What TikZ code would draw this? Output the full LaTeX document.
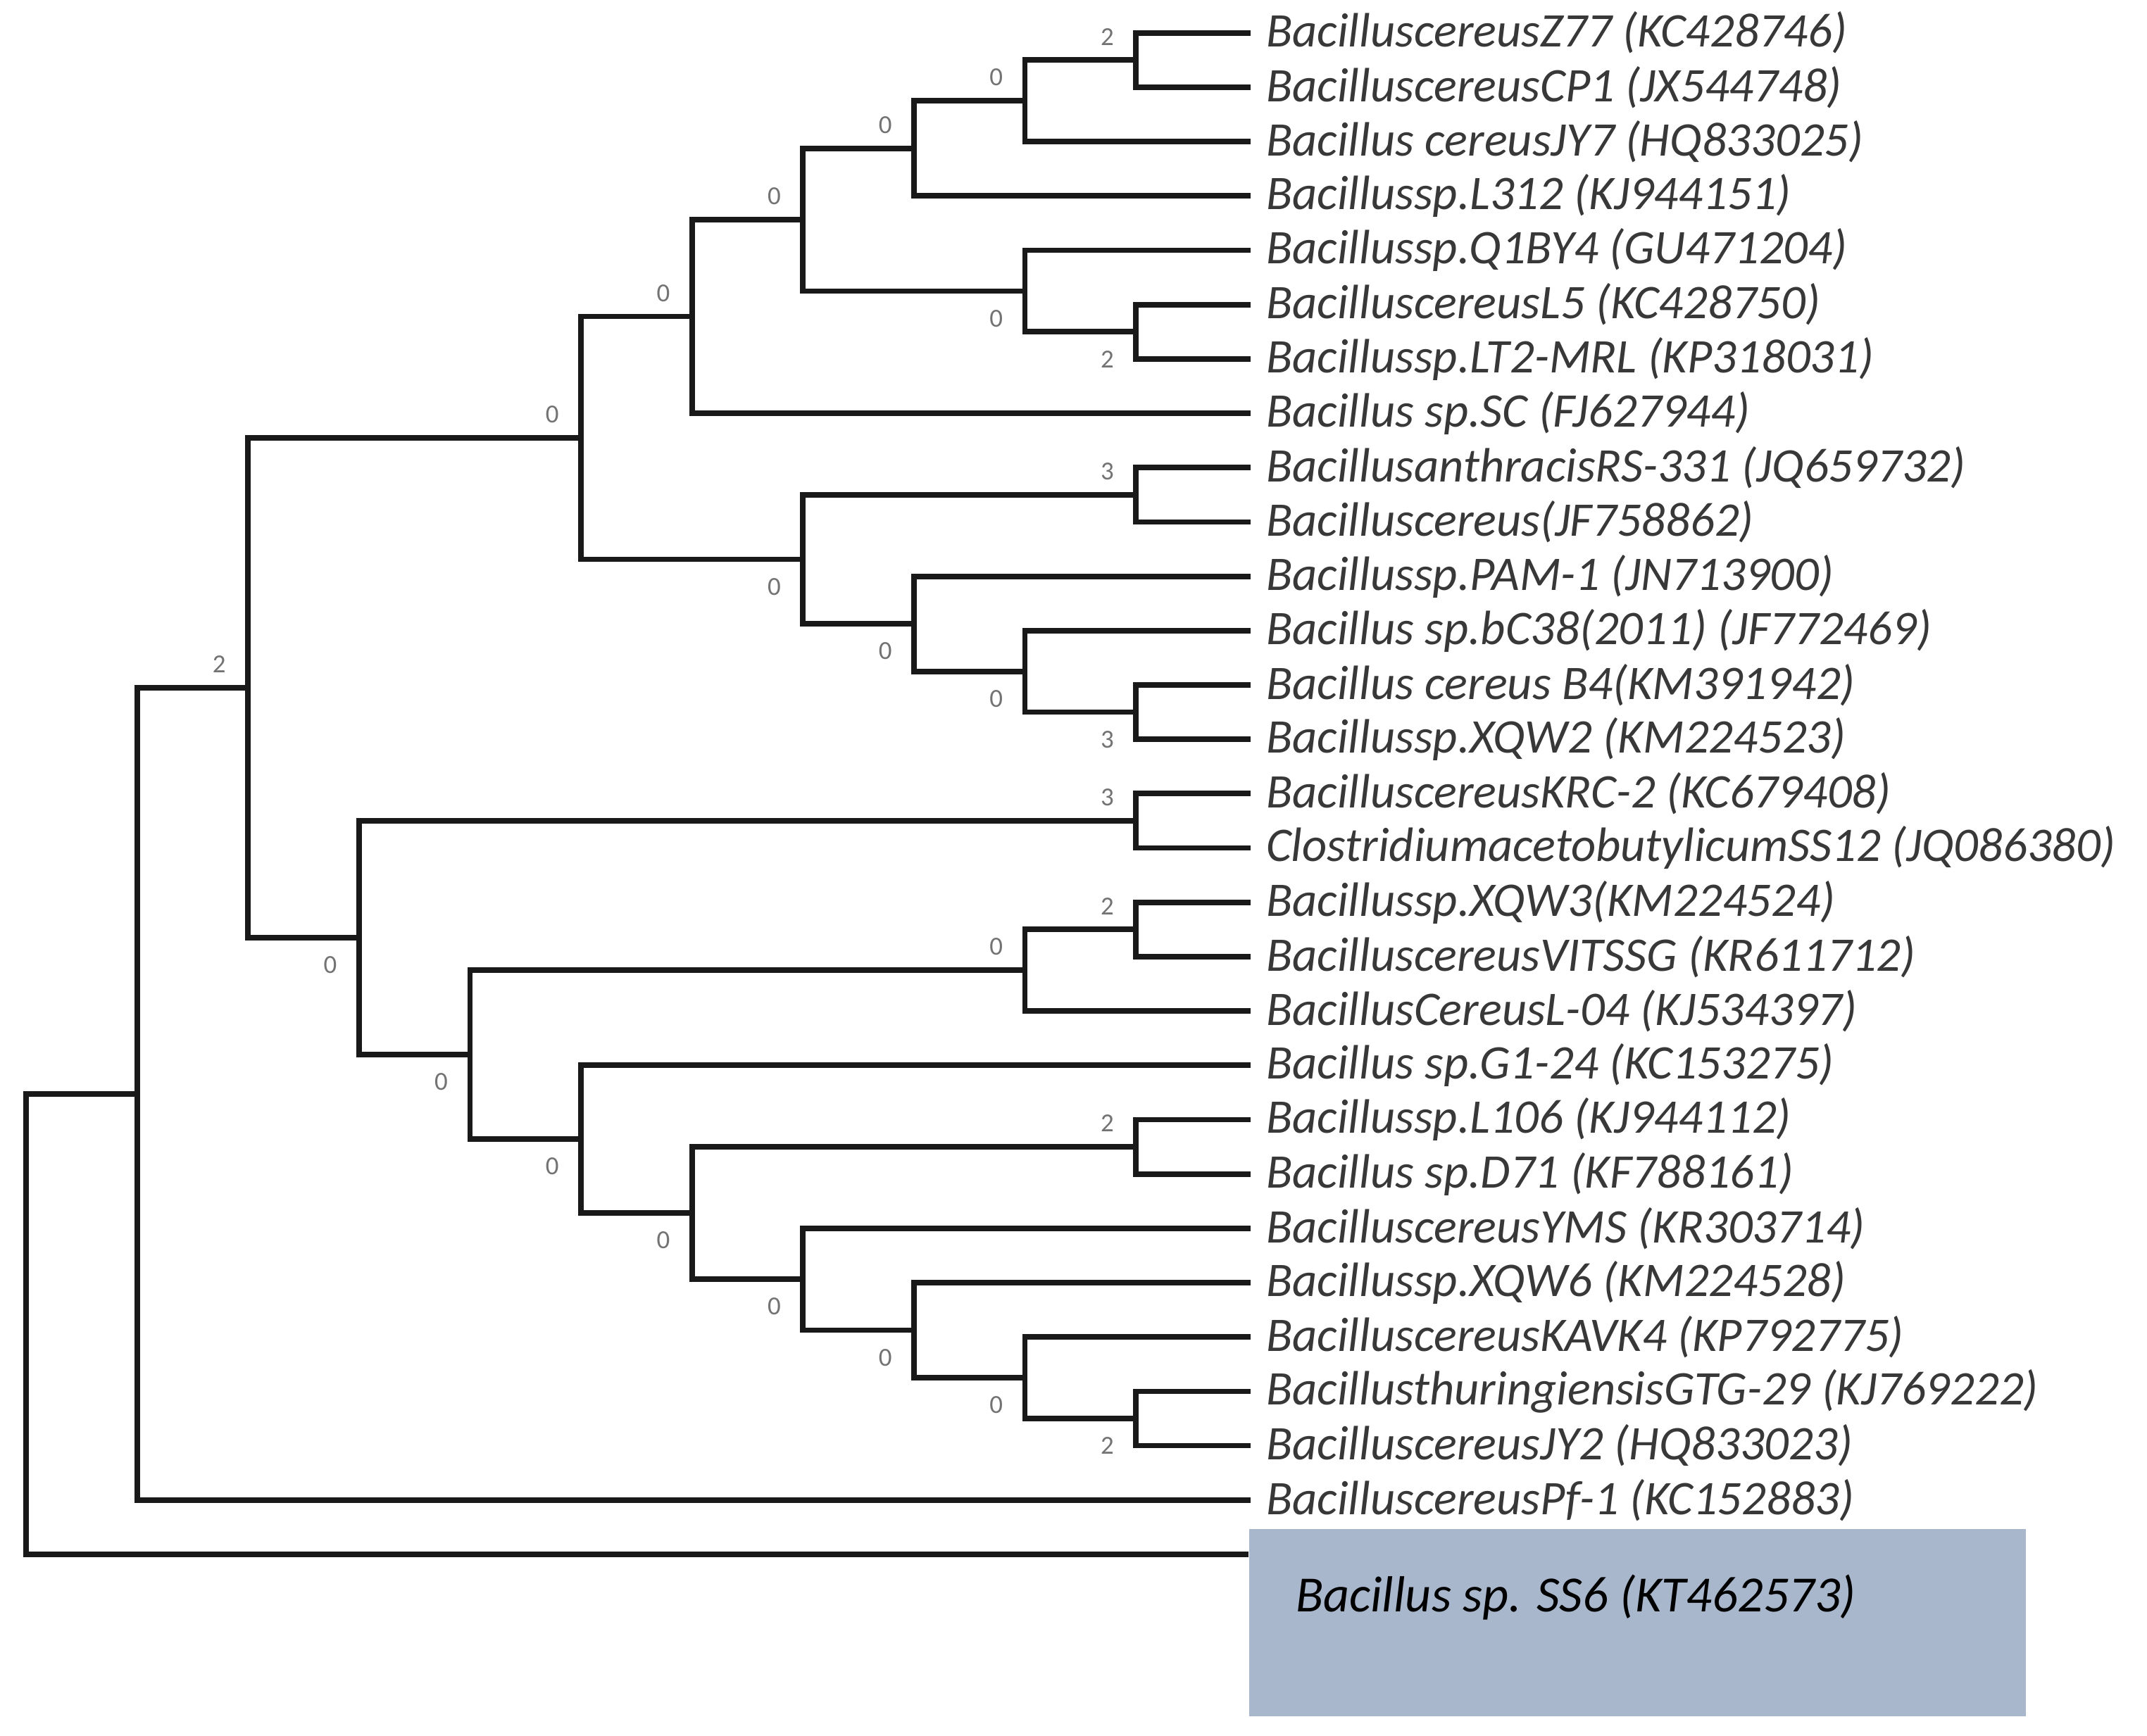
\documentclass[tikz,border=0pt]{standalone}
\usepackage{fontspec}
\setmainfont{Carlito}
\usetikzlibrary{calc}
\definecolor{boxblue}{RGB}{169,183,204}
\begin{document}
\begin{tikzpicture}[x=0.019446cm,y=-0.019446cm,
  br/.style={line width=2.2pt, draw=black!90},
  leaf/.style={anchor=west, inner xsep=6pt, inner ysep=0pt, font=\fontsize{19.5}{21}\selectfont\itshape, text=black!78},
  bs/.style={inner sep=0pt, font=\fontsize{10.5}{11}\selectfont, text=black!55}]
\useasboundingbox[fill=white] (0,0) rectangle (1568,1268);
% leaves
\node[leaf] (l1) at (913.5,24.0) {BacilluscereusZ77 (KC428746)};
\node[leaf] (l2) at (913.5,63.7) {BacilluscereusCP1 (JX544748)};
\node[leaf] (l3) at (913.5,103.4) {Bacillus cereusJY7 (HQ833025)};
\node[leaf] (l4) at (913.5,143.1) {Bacillussp.L312 (KJ944151)};
\node[leaf] (l5) at (913.5,182.8) {Bacillussp.Q1BY4 (GU471204)};
\node[leaf] (l6) at (913.5,222.5) {BacilluscereusL5 (KC428750)};
\node[leaf] (l7) at (913.5,262.2) {Bacillussp.LT2-MRL (KP318031)};
\node[leaf] (l8) at (913.5,301.9) {Bacillus sp.SC (FJ627944)};
\node[leaf] (l9) at (913.5,341.6) {BacillusanthracisRS-331 (JQ659732)};
\node[leaf] (l10) at (913.5,381.3) {Bacilluscereus(JF758862)};
\node[leaf] (l11) at (913.5,421.0) {Bacillussp.PAM-1 (JN713900)};
\node[leaf] (l12) at (913.5,460.7) {Bacillus sp.bC38(2011) (JF772469)};
\node[leaf] (l13) at (913.5,500.4) {Bacillus cereus B4(KM391942)};
\node[leaf] (l14) at (913.5,540.0) {Bacillussp.XQW2 (KM224523)};
\node[leaf] (l15) at (913.5,579.7) {BacilluscereusKRC-2 (KC679408)};
\node[leaf] (l16) at (913.5,619.4) {ClostridiumacetobutylicumSS12 (JQ086380)};
\node[leaf] (l17) at (913.5,659.1) {Bacillussp.XQW3(KM224524)};
\node[leaf] (l18) at (913.5,698.8) {BacilluscereusVITSSG (KR611712)};
\node[leaf] (l19) at (913.5,738.5) {BacillusCereusL-04 (KJ534397)};
\node[leaf] (l20) at (913.5,778.2) {Bacillus sp.G1-24 (KC153275)};
\node[leaf] (l21) at (913.5,817.9) {Bacillussp.L106 (KJ944112)};
\node[leaf] (l22) at (913.5,857.6) {Bacillus sp.D71 (KF788161)};
\node[leaf] (l23) at (913.5,897.3) {BacilluscereusYMS (KR303714)};
\node[leaf] (l24) at (913.5,937.0) {Bacillussp.XQW6 (KM224528)};
\node[leaf] (l25) at (913.5,976.7) {BacilluscereusKAVK4 (KP792775)};
\node[leaf] (l26) at (913.5,1016.4) {BacillusthuringiensisGTG-29 (KJ769222)};
\node[leaf] (l27) at (913.5,1056.1) {BacilluscereusJY2 (HQ833023)};
\node[leaf] (l28) at (913.5,1095.8) {BacilluscereusPf-1 (KC152883)};
\coordinate (l29) at (912,1135.5);
% internal nodes
\coordinate (root) at (19.0,967.3);
\coordinate (A) at (100.1,799.1);
\coordinate (B) at (181.1,502.45);
\coordinate (D) at (262.2,685.0);
\coordinate (R) at (343.2,770.4);
\coordinate (C) at (424.3,319.9);
\coordinate (T) at (424.3,832.15);
\coordinate (E) at (505.4,231.2);
\coordinate (V) at (505.4,886.1);
\coordinate (F) at (586.4,408.6);
\coordinate (G) at (586.4,160.5);
\coordinate (X) at (586.4,934.5);
\coordinate (H) at (667.5,108.35);
\coordinate (N) at (667.5,455.7);
\coordinate (Y) at (667.5,971.75);
\coordinate (J) at (748.5,73.6);
\coordinate (I) at (748.5,212.6);
\coordinate (O) at (748.5,490.45);
\coordinate (S) at (748.5,708.7);
\coordinate (Z) at (748.5,1006.5);
\coordinate (K) at (829.6,43.85);
\coordinate (L) at (829.6,242.35);
\coordinate (M) at (829.6,361.45);
\coordinate (P) at (829.6,520.2);
\coordinate (Q) at (829.6,599.55);
\coordinate (U) at (829.6,678.95);
\coordinate (W) at (829.6,837.75);
\coordinate (AA) at (829.6,1036.25);
% branches
\draw[br] (root) |- (A);
\draw[br] (root) |- (l29);
\draw[br] (A) |- (B);
\draw[br] (A) |- (l28.west);
\draw[br] (B) |- (C);
\draw[br] (B) |- (D);
\draw[br] (C) |- (E);
\draw[br] (C) |- (F);
\draw[br] (E) |- (G);
\draw[br] (E) |- (l8.west);
\draw[br] (G) |- (H);
\draw[br] (G) |- (I);
\draw[br] (H) |- (J);
\draw[br] (H) |- (l4.west);
\draw[br] (J) |- (K);
\draw[br] (J) |- (l3.west);
\draw[br] (K) |- (l1.west);
\draw[br] (K) |- (l2.west);
\draw[br] (I) |- (l5.west);
\draw[br] (I) |- (L);
\draw[br] (L) |- (l6.west);
\draw[br] (L) |- (l7.west);
\draw[br] (F) |- (M);
\draw[br] (F) |- (N);
\draw[br] (M) |- (l9.west);
\draw[br] (M) |- (l10.west);
\draw[br] (N) |- (l11.west);
\draw[br] (N) |- (O);
\draw[br] (O) |- (l12.west);
\draw[br] (O) |- (P);
\draw[br] (P) |- (l13.west);
\draw[br] (P) |- (l14.west);
\draw[br] (D) |- (Q);
\draw[br] (D) |- (R);
\draw[br] (Q) |- (l15.west);
\draw[br] (Q) |- (l16.west);
\draw[br] (R) |- (S);
\draw[br] (R) |- (T);
\draw[br] (S) |- (U);
\draw[br] (S) |- (l19.west);
\draw[br] (U) |- (l17.west);
\draw[br] (U) |- (l18.west);
\draw[br] (T) |- (l20.west);
\draw[br] (T) |- (V);
\draw[br] (V) |- (W);
\draw[br] (V) |- (X);
\draw[br] (W) |- (l21.west);
\draw[br] (W) |- (l22.west);
\draw[br] (X) |- (l23.west);
\draw[br] (X) |- (Y);
\draw[br] (Y) |- (l24.west);
\draw[br] (Y) |- (Z);
\draw[br] (Z) |- (l25.west);
\draw[br] (Z) |- (AA);
\draw[br] (AA) |- (l26.west);
\draw[br] (AA) |- (l27.west);
% support values
\node[bs] (sK) at ($(K)+(-21,-17)$) {2};
\node[bs] (sJ) at ($(J)+(-21,-17)$) {0};
\node[bs] (sH) at ($(H)+(-21,-17)$) {0};
\node[bs] (sG) at ($(G)+(-21,-17)$) {0};
\node[bs] (sE) at ($(E)+(-21,-17)$) {0};
\node[bs] (sC) at ($(C)+(-21,-17)$) {0};
\node[bs] (sB) at ($(B)+(-21,-17)$) {2};
\node[bs] (sM) at ($(M)+(-21,-17)$) {3};
\node[bs] (sQ) at ($(Q)+(-21,-17)$) {3};
\node[bs] (sU) at ($(U)+(-21,-17)$) {2};
\node[bs] (sS) at ($(S)+(-21,-17)$) {0};
\node[bs] (sW) at ($(W)+(-21,-17)$) {2};
\node[bs] (sI) at ($(I)+(-21,20)$) {0};
\node[bs] (sL) at ($(L)+(-21,20)$) {2};
\node[bs] (sF) at ($(F)+(-21,20)$) {0};
\node[bs] (sN) at ($(N)+(-21,20)$) {0};
\node[bs] (sO) at ($(O)+(-21,20)$) {0};
\node[bs] (sP) at ($(P)+(-21,20)$) {3};
\node[bs] (sD) at ($(D)+(-21,20)$) {0};
\node[bs] (sR) at ($(R)+(-21,20)$) {0};
\node[bs] (sT) at ($(T)+(-21,20)$) {0};
\node[bs] (sV) at ($(V)+(-21,20)$) {0};
\node[bs] (sX) at ($(X)+(-21,20)$) {0};
\node[bs] (sY) at ($(Y)+(-21,20)$) {0};
\node[bs] (sZ) at ($(Z)+(-21,20)$) {0};
\node[bs] (sAA) at ($(AA)+(-21,20)$) {2};
% highlighted taxon
\node[fill=boxblue, inner sep=0pt, minimum width=11.026cm, minimum height=2.664cm, anchor=north west] (box) at (912,1116.5) {};
\node[anchor=west, inner sep=0pt, font=\fontsize{20.5}{22}\selectfont\itshape, text=black] (ss6) at (946,1167) {Bacillus sp. SS6 (KT462573)};
\end{tikzpicture}
\end{document}
